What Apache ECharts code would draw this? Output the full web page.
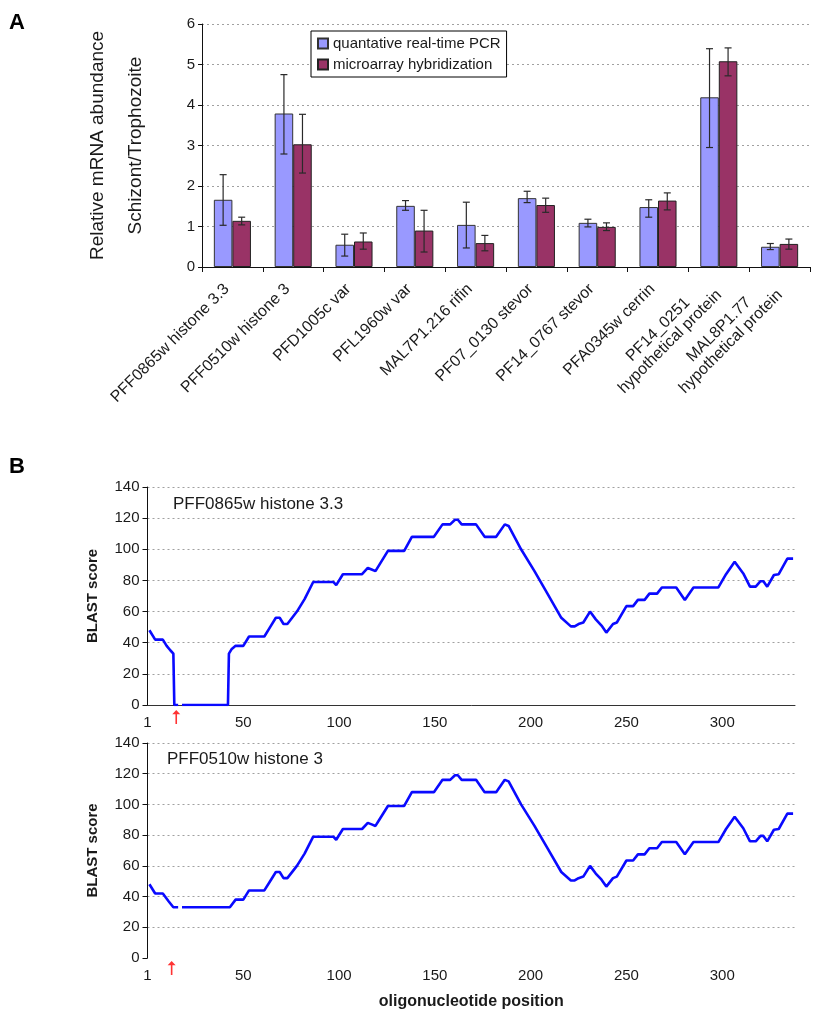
<!DOCTYPE html>
<html>
<head>
<meta charset="utf-8">
<script src="https://cdn.jsdelivr.net/npm/echarts@6/dist/echarts.min.js"></script>
<style>
  html, body { margin: 0; padding: 0; background: #fff; }
  #chart { width: 815px; height: 1011px; }
</style>
</head>
<body>
<div id="chart"></div>
<script>
// ---- Panel A: relative mRNA abundance (schizont / trophozoite) ----
const genes = [
  'PFF0865w histone 3.3', 'PFF0510w histone 3', 'PFD1005c var', 'PFL1960w var',
  'MAL7P1.216 rifin', 'PF07_0130 stevor', 'PF14_0767 stevor', 'PFA0345w cerrin',
  'PF14_0251\nhypothetical protein', 'MAL8P1.77\nhypothetical protein'
];
const pcrMean  = [1.66, 3.79, 0.55, 1.51, 1.04, 1.70, 1.09, 1.48, 4.19, 0.50];
const pcrLow   = [1.03, 2.79, 0.27, 1.40, 0.47, 1.59, 0.99, 1.23, 2.95, 0.43];
const pcrHigh  = [2.28, 4.75, 0.81, 1.64, 1.60, 1.87, 1.18, 1.66, 5.39, 0.58];
const arrMean  = [1.14, 3.03, 0.63, 0.90, 0.59, 1.53, 0.99, 1.64, 5.08, 0.57];
const arrLow   = [1.04, 2.32, 0.44, 0.37, 0.40, 1.35, 0.90, 1.41, 4.72, 0.44];
const arrHigh  = [1.23, 3.77, 0.84, 1.40, 0.78, 1.70, 1.09, 1.83, 5.41, 0.69];
const abundanceTicks = [0, 1, 2, 3, 4, 5, 6];

// ---- Panel B: BLAST score along the oligonucleotide ----
const h33HeadPos   = [1, 2, 4, 8, 10, 12, 13.5, 14, 16, 17, 18, 42, 42.5, 44, 46, 50];
const h33HeadScore = [48, 47, 42, 42, 38, 35, 33, 0, 0, null, 0, 0, 33, 36, 38, 38];
const h3HeadPos    = [1, 2, 4, 8, 11, 13.5, 16, 17, 18, 43, 46, 50];
const h3HeadScore  = [48, 47, 42, 42, 37, 33, 33, null, 33, 33, 38, 38];
const tailPos = [53, 61, 64, 67, 69, 71, 73, 78, 82, 86.5, 97, 98.5, 102, 112, 115, 117, 119, 121, 125.5, 134,
  138, 149.5, 154, 158, 160.5, 162, 164, 171.5, 176, 182, 186.5, 188.5, 195, 202, 209, 216, 221, 223, 225, 227.5,
  231, 234, 237, 239.5, 243, 245, 250, 253.5, 256, 259.5, 262, 266, 268.5, 276, 280.5, 285, 298, 302, 306.5, 311,
  314.5, 317.5, 320, 321.5, 323.5, 327, 329.5, 334, 337];
const tailScore = [44, 44, 50, 56, 56, 52, 52, 60, 68, 79, 79, 77, 84, 84, 88, 87, 86, 90, 99, 99,
  108, 108, 116, 116, 119, 119, 116, 116, 108, 108, 116, 115, 100, 86, 71, 56, 50.5, 50.5, 52, 53,
  60, 55, 51, 46.5, 52, 53, 63.5, 63.5, 67.5, 67.5, 71.5, 71.5, 75.5, 75.5, 67.5, 75.5, 75.5, 84, 92, 84.5,
  76, 76, 79.5, 79.5, 76, 83.5, 84, 94, 94];
const arrowPos = [15, 12.6];
const positionMax = 338;
const panelTitles = ['PFF0865w histone 3.3', 'PFF0510w histone 3'];

const FONT = '"Liberation Sans", Arial, sans-serif';
const INK = '#1a1a1a';
const GAP_FRAC = 0.39;

function pairs(pos, score) {
  return pos.map((p, i) => [p, score[i] == null ? '-' : score[i]]);
}

// two-line gene labels: each line centred within the label block
function geneLabel(v) {
  if (v.indexOf('\n') < 0) return v;
  return v.split('\n').map(s => '{c|' + s + '}').join('\n');
}

function errorRender(side) {
  return function (params, api) {
    const cat = api.value(0);
    const lo = api.value(1);
    const hi = api.value(2);
    const band = api.size([1, 0])[0];
    const x = api.coord([cat, 0])[0] + side * band * (1 - GAP_FRAC) / 4;
    const yT = api.coord([cat, hi])[1];
    const yB = api.coord([cat, lo])[1];
    const c = 3.5;
    const st = { stroke: '#2a2a2a', lineWidth: 1.2 };
    return {
      type: 'group',
      children: [
        { type: 'line', shape: { x1: x, y1: yT, x2: x, y2: yB }, style: st },
        { type: 'line', shape: { x1: x - c, y1: yT, x2: x + c, y2: yT }, style: st },
        { type: 'line', shape: { x1: x - c, y1: yB, x2: x + c, y2: yB }, style: st }
      ]
    };
  };
}

const lineGrids = [
  { left: 147.5, width: 647.5, top: 487, height: 218 },
  { left: 147.5, width: 647.5, top: 743, height: 216 }
];

const xAxes = [
  {
    type: 'category', gridIndex: 0, data: genes,
    axisLine: { lineStyle: { color: '#111', width: 1 } },
    axisTick: { show: true, length: 5, lineStyle: { color: '#111' } },
    axisLabel: {
      rotate: 45, interval: 0, margin: 14, padding: [0, 8, 0, 0],
      fontFamily: FONT, fontSize: 16, color: INK, lineHeight: 17,
      formatter: geneLabel,
      rich: { c: { align: 'center', fontFamily: FONT, fontSize: 16, color: INK, lineHeight: 17 } }
    }
  }
];
const yAxes = [
  {
    type: 'value', gridIndex: 0, min: 0, max: 6, interval: 1,
    name: 'Relative mRNA abundance\nSchizont/Trophozoite',
    nameLocation: 'middle', nameRotate: 90, nameGap: 47,
    nameTextStyle: { fontFamily: FONT, fontSize: 19, color: INK, lineHeight: 38 },
    axisLine: { show: true, lineStyle: { color: '#111' } },
    axisTick: { show: true, length: 4, lineStyle: { color: '#111' } },
    axisLabel: { fontFamily: FONT, fontSize: 15, color: INK, margin: 7,
      formatter: v => abundanceTicks.includes(v) ? String(v) : '' },
    splitLine: { show: true, lineStyle: { color: '#a0a0a0', type: [2, 3] } }
  }
];

lineGrids.forEach((g, k) => {
  xAxes.push({
    type: 'value', gridIndex: k + 1, min: 0, max: positionMax, interval: 50,
    name: k === 1 ? 'oligonucleotide position' : '',
    nameLocation: 'middle', nameGap: 36,
    nameTextStyle: { fontFamily: FONT, fontSize: 16, fontWeight: 'bold', color: INK },
    axisLine: { show: k === 0, lineStyle: { color: '#333' } },
    axisTick: { show: false },
    axisLabel: { fontFamily: FONT, fontSize: 15, color: INK, margin: 10, showMaxLabel: false,
      formatter: v => v === 0 ? '1' : String(v) },
    splitLine: { show: false }
  });
  yAxes.push({
    type: 'value', gridIndex: k + 1, min: 0, max: 140, interval: 20,
    name: 'BLAST score', nameLocation: 'middle', nameRotate: 90, nameGap: 47,
    nameTextStyle: { fontFamily: FONT, fontSize: 15, fontWeight: 'bold', color: INK },
    axisLine: { show: true, lineStyle: { color: '#111' } },
    axisTick: { show: true, length: 5, lineStyle: { color: '#111' } },
    axisLabel: { fontFamily: FONT, fontSize: 15, color: INK, margin: 8 },
    splitLine: { show: true, showMinLine: false, lineStyle: { color: '#a0a0a0', type: [2, 3] } }
  });
});

const arrowPath = 'path://M5,0 L10,6 L6,6 L6,20 L4,20 L4,6 L0,6 Z';

const option = {
  backgroundColor: '#fff',
  animation: false,
  textStyle: { fontFamily: FONT },
  title: [
    { text: 'A', left: 9, top: 12, padding: 0, textStyle: { fontFamily: FONT, fontSize: 22, fontWeight: 'bold', color: '#000' } },
    { text: 'B', left: 9, top: 456, padding: 0, textStyle: { fontFamily: FONT, fontSize: 22, fontWeight: 'bold', color: '#000' } },
    { text: panelTitles[0], left: 173, top: 496, padding: 0, textStyle: { fontFamily: FONT, fontSize: 17, fontWeight: 'normal', color: INK } },
    { text: panelTitles[1], left: 167, top: 751, padding: 0, textStyle: { fontFamily: FONT, fontSize: 17, fontWeight: 'normal', color: INK } }
  ],
  legend: {
    left: 311, top: 31, orient: 'vertical', icon: 'rect',
    itemWidth: 10, itemHeight: 10, itemGap: 6,
    padding: [5, 6, 5, 6],
    borderColor: '#000', borderWidth: 1, backgroundColor: '#fff',
    textStyle: { fontFamily: FONT, fontSize: 15, color: INK },
    data: ['quantative real-time PCR', 'microarray hybridization']
  },
  grid: [
    { left: 202, width: 608, top: 24, height: 243 },
    lineGrids[0], lineGrids[1]
  ],
  xAxis: xAxes,
  yAxis: yAxes,
  series: [
    {
      name: 'quantative real-time PCR', type: 'bar', xAxisIndex: 0, yAxisIndex: 0,
      data: pcrMean, barGap: '0%', barCategoryGap: (GAP_FRAC * 100) + '%',
      itemStyle: { color: '#9999ff', borderColor: '#333', borderWidth: 1 }
    },
    {
      name: 'microarray hybridization', type: 'bar', xAxisIndex: 0, yAxisIndex: 0,
      data: arrMean, barGap: '0%', barCategoryGap: (GAP_FRAC * 100) + '%',
      itemStyle: { color: '#993366', borderColor: '#222', borderWidth: 1 }
    },
    {
      type: 'custom', xAxisIndex: 0, yAxisIndex: 0, z: 5,
      renderItem: errorRender(-1),
      encode: { x: 0, y: [1, 2] },
      data: genes.map((g, i) => [i, pcrLow[i], pcrHigh[i]])
    },
    {
      type: 'custom', xAxisIndex: 0, yAxisIndex: 0, z: 5,
      renderItem: errorRender(1),
      encode: { x: 0, y: [1, 2] },
      data: genes.map((g, i) => [i, arrLow[i], arrHigh[i]])
    },
    {
      type: 'line', xAxisIndex: 1, yAxisIndex: 1, showSymbol: false,
      lineStyle: { color: '#0a0aff', width: 2.6 },
      data: pairs(h33HeadPos.concat(tailPos), h33HeadScore.concat(tailScore))
    },
    {
      type: 'line', xAxisIndex: 2, yAxisIndex: 2, showSymbol: false,
      lineStyle: { color: '#0a0aff', width: 2.6 },
      data: pairs(h3HeadPos.concat(tailPos), h3HeadScore.concat(tailScore))
    },
    {
      type: 'scatter', xAxisIndex: 1, yAxisIndex: 1, clip: false,
      symbol: arrowPath, symbolSize: [8, 14], symbolKeepAspect: false, symbolOffset: [0, 12],
      itemStyle: { color: '#ff0000' },
      data: [[arrowPos[0], 0]]
    },
    {
      type: 'scatter', xAxisIndex: 2, yAxisIndex: 2, clip: false,
      symbol: arrowPath, symbolSize: [8, 14], symbolKeepAspect: false, symbolOffset: [0, 10],
      itemStyle: { color: '#ff0000' },
      data: [[arrowPos[1], 0]]
    }
  ]
};

const chart = echarts.init(document.getElementById('chart'), null, { renderer: 'canvas' });
chart.setOption(option);
</script>
</body>
</html>
